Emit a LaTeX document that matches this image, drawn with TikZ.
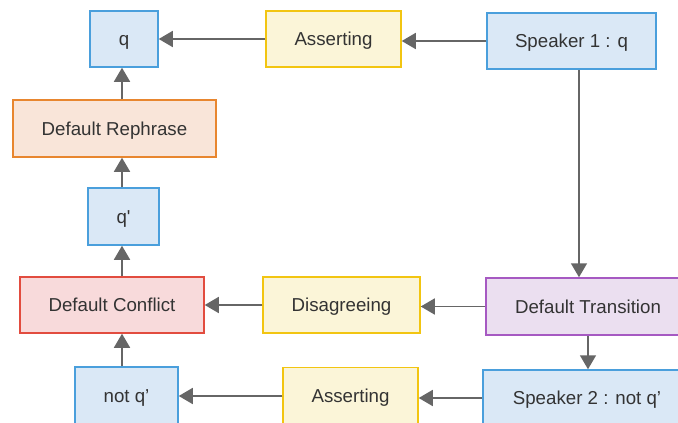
\documentclass[tikz,border=0pt]{standalone}
\usepackage{fontspec}
\setmainfont{Liberation Sans}
\newfontfamily\plainfont{Liberation Sans}
\usetikzlibrary{arrows.meta}
\definecolor{bluefill}{HTML}{DAE8F6}
\definecolor{blueline}{HTML}{4A9FDC}
\definecolor{yelfill}{HTML}{FBF5D8}
\definecolor{yelline}{HTML}{F2C511}
\definecolor{orfill}{HTML}{F9E5D9}
\definecolor{orline}{HTML}{E8862F}
\definecolor{redfill}{HTML}{F8DADB}
\definecolor{redline}{HTML}{E24C3F}
\definecolor{purfill}{HTML}{EBDFF0}
\definecolor{purline}{HTML}{A659C2}
\definecolor{arrowgray}{HTML}{666666}
\definecolor{textgray}{HTML}{333333}

\begin{document}
\begin{tikzpicture}[x=1pt,y=-1pt,line width=1.5pt,
  font=\fontsize{18.7}{21}\selectfont,text=textgray,
  box/.style={draw,rectangle,inner sep=0pt,text height=13pt,text depth=0pt},
  speaker/.style={box,fill=bluefill,draw=blueline},
  act/.style={box,fill=yelfill,draw=yelline},
  rephrase/.style={box,fill=orfill,draw=orline},
  conflict/.style={box,fill=redfill,draw=redline},
  transition/.style={box,fill=purfill,draw=purline},
  flow/.style={draw=arrowgray,line width=1.6pt,-{Triangle[length=14pt,width=16pt]}}]
\useasboundingbox (0,0) rectangle (678,423);
\clip (0,0) rectangle (678,423);
\node[speaker,minimum width=68pt,minimum height=56pt] (q) at (124,39) {q};
\node[act,minimum width=135pt,minimum height=56pt] (assert1) at (333.5,39) {Asserting};
\node[speaker,minimum width=169pt,minimum height=56pt] (spk1) at (571.5,41) {Speaker 1 : q};
\node[rephrase,minimum width=203pt,minimum height=57pt] (reph) at (114.5,128.5) {Default Rephrase};
\node[speaker,minimum width=71pt,minimum height=57pt] (qp) at (123.5,216.5) {\plainfont q'};
\node[conflict,minimum width=184pt,minimum height=56pt] (conf) at (112,305) {Default Conflict};
\node[act,minimum width=157pt,minimum height=56pt] (dis) at (341.5,305) {Disagreeing};
\node[transition,minimum width=204pt,minimum height=57pt] (trans) at (588,306.5) {Default Transition};
\node[speaker,minimum width=103pt,minimum height=58pt] (notq) at (126.5,396) {not q’};
\node[act,minimum width=135pt,minimum height=57pt] (assert2) at (350.5,396) {Asserting};
\node[speaker,minimum width=208pt,minimum height=56pt] (spk2) at (587,398) {Speaker 2 : not q’};
% top row
\draw[flow] (spk1.west) -- (spk1.west -| assert1.east);
\draw[flow] (assert1) -- (q);
% left column
\draw[flow] (reph.north -| 122,0) -- (q.south -| 122,0);
\draw[flow] (qp.north -| 122,0) -- (reph.south -| 122,0);
\draw[flow] (conf.north -| 122,0) -- (qp.south -| 122,0);
\draw[flow] (notq.north -| 122,0) -- (conf.south -| 122,0);
% right side
\draw[flow] ([xshift=7.5pt]spk1.south) -- ([xshift=7.5pt]spk1.south |- trans.north);
\draw[flow] (trans.south) -- (trans.south |- spk2.north);
\draw[flow] (trans.west) -- (trans.west -| dis.east);
\draw[flow] (dis) -- (conf);
\draw[flow] (spk2.west) -- (spk2.west -| assert2.east);
\draw[flow] (assert2) -- (notq);
\end{tikzpicture}
\end{document}
